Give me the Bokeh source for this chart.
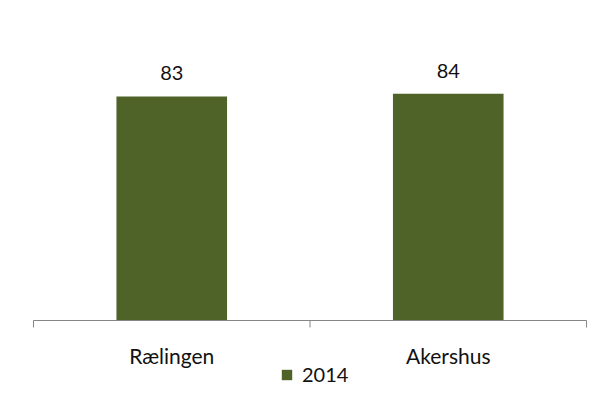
from bokeh.plotting import figure
from bokeh.models import (ColumnDataSource, Legend, LegendItem, Range1d, LabelSet)
from bokeh.core.properties import value
from bokeh.embed import file_html
from bokeh.resources import INLINE

categories = ["Rælingen", "Akershus"]
values_2014 = [83, 84]
series_name = "2014"

FONT = "Lato"
BAR = "#4F6228"
AX = "#868686"
TXT = "#111111"

n = len(categories)
centers = [i + 0.5 for i in range(n)]
bounds = list(range(n + 1))
src = ColumnDataSource(dict(x=centers, top=values_2014, cat=categories,
                            label=[str(v) for v in values_2014]))

# frame: 32..587 px horizontally, 50..391 px vertically; baseline (0) at 320 px
PX_PER_UNIT_Y = 2.7
Y_BOTTOM = -(391 - 320) / PX_PER_UNIT_Y
X_PAD = 1 / 276.5
TICK = 7 / PX_PER_UNIT_Y

p = figure(width=587, height=391, output_backend="svg", toolbar_location=None,
           x_range=Range1d(-X_PAD, n + X_PAD), y_range=Range1d(Y_BOTTOM, 100),
           x_axis_location=None, y_axis_location=None,
           min_border_left=32, min_border_right=0, min_border_top=50, min_border_bottom=0)
p.outline_line_color = None
p.xgrid.visible = False
p.ygrid.visible = False

r = p.vbar(x="x", top="top", width=0.4, bottom=0, source=src, fill_color=BAR, line_color=None)

# category axis: baseline, boundary ticks, centred labels
p.segment(x0=bounds[0], y0=0, x1=bounds[-1], y1=0, line_color=AX, line_width=1)
p.segment(x0=bounds, y0=[0] * len(bounds), x1=bounds, y1=[-TICK] * len(bounds),
          line_color=AX, line_width=1)
p.text(x="x", y=0, text="cat", source=src, text_align="center", text_baseline="alphabetic",
       y_offset=35, text_font=value(FONT), text_font_size="21px", text_color=TXT)

labels = LabelSet(x="x", y="top", text="label", source=src, text_align="center",
                  text_baseline="alphabetic", y_offset=16, text_font_size="20px",
                  text_font=value(FONT), text_color=TXT)
p.add_layout(labels)

legend = Legend(items=[LegendItem(label=series_name, renderers=[r])],
                orientation="horizontal", location=(248, 5),
                label_text_font=FONT, label_text_font_size="20px", label_text_color=TXT,
                glyph_width=13, glyph_height=13, label_standoff=9,
                border_line_color=None, background_fill_alpha=0,
                padding=0, margin=0, spacing=0)
p.add_layout(legend, "center")

open("out.html", "w").write(file_html(p, INLINE))
